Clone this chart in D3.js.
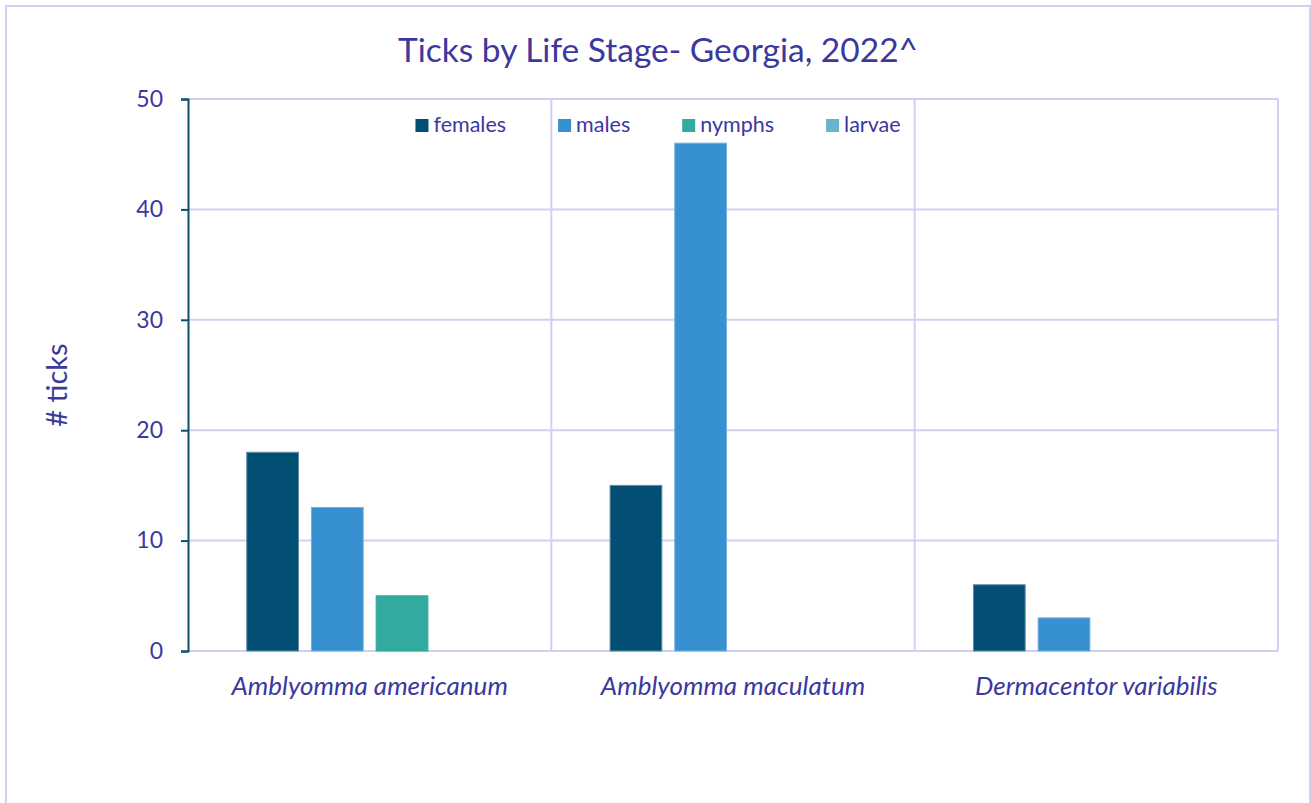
<!DOCTYPE html>
<html>
<head>
<meta charset="utf-8">
<script src="https://cdn.jsdelivr.net/npm/d3@7"></script>
<style>
  html, body { margin: 0; padding: 0; background: #ffffff; }
  svg { display: block; font-family: Lato, "Open Sans", sans-serif; }
</style>
</head>
<body>
<svg id="chart" width="1311" height="803"></svg>
<script>
// Tick counts by species and life stage
const species = ["Amblyomma americanum", "Amblyomma maculatum", "Dermacentor variabilis"];
const stages = ["females", "males", "nymphs", "larvae"];
const females = [18, 15, 6];
const males = [13, 46, 3];
const nymphs = [5, 0, 0];
const larvae = [0, 0, 0];
const yTicks = [0, 10, 20, 30, 40, 50];
const stageColors = ["#034f73", "#3790cf", "#33aaa0", "#6ab4cb"];
const stageStrokes = ["#5f8ca8", "#74b0e0", "#33aaa0", "#6ab4cb"];

const seriesValues = [females, males, nymphs, larvae];
const rows = species.map((s, i) => ({
  species: s,
  values: stages.map((st, j) => ({ stage: st, value: seriesValues[j][i] }))
}));

const textColor = "#3b389e";
const gridColor = "#d3cff0";
const axisColor = "#0b4f6c";

const svg = d3.select("#chart");

// outer chart frame
svg.append("rect")
  .attr("x", 6).attr("y", 6).attr("width", 1304).attr("height", 830)
  .attr("fill", "none").attr("stroke", gridColor).attr("stroke-width", 2);

const plot = { left: 188, right: 1278, top: 99, bottom: 651 };

const x0 = d3.scaleBand().domain(species).range([plot.left, plot.right]).padding(0);
const x1 = d3.scaleBand().domain(stages).range([0, x0.bandwidth()])
  .paddingInner(0.2).paddingOuter(0.908);
const y = d3.scaleLinear().domain([0, 50]).range([plot.bottom, plot.top]);

// horizontal gridlines
svg.append("g").selectAll("line").data(yTicks).join("line")
  .attr("x1", plot.left).attr("x2", plot.right)
  .attr("y1", d => y(d)).attr("y2", d => y(d))
  .attr("stroke", gridColor).attr("stroke-width", 2);

// vertical category dividers and right edge
const vLines = species.map(s => x0(s) + x0.bandwidth());
svg.append("g").selectAll("line").data(vLines).join("line")
  .attr("x1", d => d).attr("x2", d => d)
  .attr("y1", plot.top).attr("y2", plot.bottom)
  .attr("stroke", gridColor).attr("stroke-width", 2);

// bars
const groups = svg.append("g").selectAll("g").data(rows).join("g")
  .attr("transform", d => `translate(${x0(d.species)},0)`);
groups.selectAll("rect").data(d => d.values.filter(v => v.value > 0)).join("rect")
  .attr("x", d => x1(d.stage))
  .attr("width", x1.bandwidth())
  .attr("y", d => y(d.value))
  .attr("height", d => y(0) - y(d.value))
  .attr("fill", d => stageColors[stages.indexOf(d.stage)])
  .attr("stroke", d => stageStrokes[stages.indexOf(d.stage)])
  .attr("stroke-width", 1);

// y axis
const yAxis = d3.axisLeft(y).tickValues(yTicks).tickSize(7).tickPadding(18);
const yg = svg.append("g").attr("transform", `translate(${plot.left},0)`).call(yAxis);
yg.select(".domain").attr("stroke", axisColor).attr("stroke-width", 2);
yg.selectAll(".tick line").attr("stroke", axisColor).attr("stroke-width", 2);
yg.selectAll(".tick text")
  .attr("fill", textColor)
  .style("font-size", "23px")
  .style("font-family", "Lato, sans-serif");

// x category labels
svg.append("g").selectAll("text").data(species).join("text")
  .attr("x", d => x0(d) + x0.bandwidth() / 2)
  .attr("y", 695)
  .attr("text-anchor", "middle")
  .attr("fill", textColor)
  .style("font-size", "26px")
  .style("font-style", "italic")
  .text(d => d);

// y axis title
svg.append("text")
  .attr("transform", "translate(67,385) rotate(-90)")
  .attr("text-anchor", "middle")
  .attr("fill", textColor)
  .style("font-size", "29px")
  .text("# ticks");

// chart title
svg.append("text")
  .attr("x", 658).attr("y", 62)
  .attr("text-anchor", "middle")
  .attr("fill", textColor)
  .style("font-size", "33.5px")
  .text("Ticks by Life Stage- Georgia, 2022^");

// legend, laid out from measured label widths and centred on the chart
const legend = svg.append("g");
const items = legend.selectAll("g").data(stages).join("g");
items.append("rect")
  .attr("width", 13).attr("height", 13)
  .attr("fill", (d, i) => stageColors[i]);
items.append("text")
  .attr("x", 18).attr("y", 13)
  .attr("fill", textColor)
  .style("font-size", "21.5px")
  .text(d => d);
let cursor = 0;
items.each(function () {
  const g = d3.select(this);
  g.attr("transform", `translate(${cursor},0)`);
  const w = g.select("text").node().getComputedTextLength();
  cursor += 18 + w + 52;
});
const legendWidth = cursor - 52;
legend.attr("transform", `translate(${658 - legendWidth / 2},119)`);
</script>
</body>
</html>
